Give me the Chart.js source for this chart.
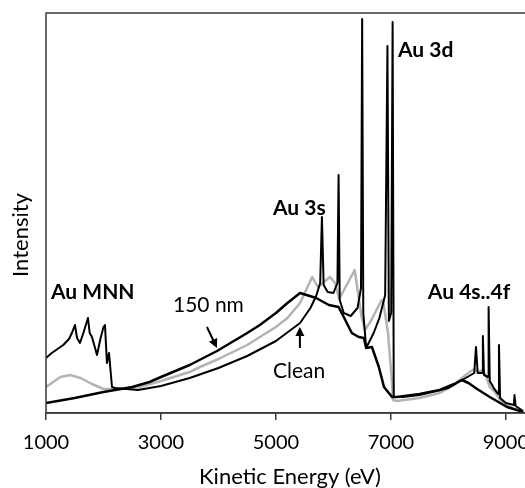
<!DOCTYPE html>
<html>
<head>
<meta charset="utf-8">
<script src="https://cdn.jsdelivr.net/npm/chart.js@4"></script>
<style>
  html, body { margin: 0; padding: 0; background: #fff; overflow: hidden; }
  #wrap { width: 525px; height: 488px; overflow: hidden; }
</style>
</head>
<body>
<div id="wrap"><canvas id="spectrum" width="540" height="488"></canvas></div>
<script>
// x axis ticks (kinetic energy, eV)
var xTicks = [1000, 3000, 5000, 7000, 9000];

// clean Au: MNN lines at low energy + sharp 3s/3d and 4s..4f lines
var cleanEnergy = [1000, 1100, 1200, 1300, 1400, 1450, 1504, 1540, 1591, 1650, 1730, 1760, 1800, 1887, 1950, 2000, 2026, 2060, 2096, 2148,
  2200, 2400, 2600, 3000, 3500, 4000, 4500, 5000, 5420, 5600, 5700, 5770, 5800, 5830, 5900, 6000, 6070, 6090, 6110, 6180,
  6300, 6420, 6480, 6500, 6520, 6570, 6700, 6800, 6900, 6940, 6965, 7005, 7030, 7050, 7200, 7500, 8000, 8300, 8450, 8480,
  8510, 8590, 8600, 8620, 8690, 8700, 8720, 8800, 8870, 8880, 8900, 9000, 9140, 9150, 9170, 9300];
var cleanCounts = [55, 60, 64, 68, 74, 80, 88, 75, 70, 80, 95, 80, 76, 58, 75, 86, 88, 50, 60, 26,
  25, 24, 23, 27, 35, 45, 57, 72, 90, 105, 117, 130, 196, 128, 121, 120, 130, 238, 113, 100,
  97, 105, 125, 394, 100, 65, 80, 95, 118, 367, 92, 100, 391, 16, 16, 18, 25, 35, 40, 66,
  40, 40, 77, 38, 36, 106, 32, 24, 19, 68, 15, 10, 8, 18, 7, 2];

// intermediate sample (grey)
var greyEnergy = [1000, 1100, 1250, 1420, 1600, 1800, 2000, 2300, 2635, 3000, 3500, 3680, 4000, 4500, 4720, 5000, 5200, 5420, 5630, 5730,
  5940, 6030, 6100, 6370, 6490, 6550, 6650, 6840, 6870, 6950, 7020, 7035, 7100, 7500, 7850, 8100, 8300, 8370, 8450, 8520,
  8600, 8650, 8720, 8800, 8900, 9000, 9150, 9300];
var greyCounts = [26, 30, 36, 38, 35, 29, 24, 24, 26, 32, 41, 46, 54, 68, 76, 86, 95, 110, 136, 126,
  136, 130, 114, 143, 96, 83, 92, 113, 110, 80, 30, 13, 12, 15, 20, 28, 38, 41, 44, 41,
  43, 38, 26, 22, 13, 8, 4, 1];

// 150 nm overlayer
var thickEnergy = [1000, 1500, 2000, 2500, 2800, 3000, 3500, 3975, 4500, 4720, 5000, 5200, 5420, 5700, 5920, 6090, 6180, 6320, 6440, 6530,
  6570, 6670, 6790, 6880, 7020, 7100, 7500, 7850, 8100, 8234, 8350, 8500, 8720, 8900, 9020, 9300];
var thickCounts = [10, 15, 21, 26, 31, 36, 48, 62, 80, 88, 100, 110, 120, 115, 108, 106, 96, 80, 76, 75,
  65, 66, 46, 26, 16, 16, 19, 23, 29, 33, 30, 24, 16, 10, 6, 1];

var notes = [
  { text: 'Au 3d', e: 7122, i: 363, bold: true },
  { text: 'Au 3s', e: 4948, i: 205, bold: true },
  { text: 'Au MNN', e: 1087, i: 121, bold: true },
  { text: 'Au 4s..4f', e: 7643, i: 121, bold: true },
  { text: '150 nm', e: 3209, i: 108, bold: false },
  { text: 'Clean', e: 4948, i: 42, bold: false }
];
var arrows = [
  { e0: 3800, i0: 86, e1: 3974, i1: 65 },
  { e0: 5417, i0: 65, e1: 5417, i1: 86 }
];

function toPoints(xs, ys) {
  return xs.map(function (v, k) { return { x: v, y: ys[k] }; });
}

var FONT = 'Lato, "Open Sans", sans-serif';

var decorations = {
  id: 'decorations',
  afterDatasetsDraw: function (chart) {
    var ctx = chart.ctx, a = chart.chartArea;
    var sx = chart.scales.x, sy = chart.scales.y;
    ctx.save();
    // plot area frame
    ctx.strokeStyle = '#3a3a3a';
    ctx.lineWidth = 1.5;
    ctx.strokeRect(a.left, a.top, a.right - a.left, a.bottom - a.top);

    // peak labels
    ctx.fillStyle = '#000';
    ctx.textAlign = 'left';
    ctx.textBaseline = 'middle';
    notes.forEach(function (n) {
      ctx.font = (n.bold ? 'bold ' : '') + '21px ' + FONT;
      ctx.fillText(n.text, sx.getPixelForValue(n.e), sy.getPixelForValue(n.i));
    });

    // arrows
    ctx.strokeStyle = '#000';
    ctx.lineWidth = 2;
    arrows.forEach(function (r) {
      var x0 = sx.getPixelForValue(r.e0), y0 = sy.getPixelForValue(r.i0);
      var x1 = sx.getPixelForValue(r.e1), y1 = sy.getPixelForValue(r.i1);
      var ang = Math.atan2(y1 - y0, x1 - x0);
      var hl = 9, hw = 4.5;
      ctx.beginPath();
      ctx.moveTo(x0, y0);
      ctx.lineTo(x1 - Math.cos(ang) * hl * 0.8, y1 - Math.sin(ang) * hl * 0.8);
      ctx.stroke();
      ctx.beginPath();
      ctx.moveTo(x1, y1);
      ctx.lineTo(x1 - Math.cos(ang) * hl - Math.sin(ang) * hw, y1 - Math.sin(ang) * hl + Math.cos(ang) * hw);
      ctx.lineTo(x1 - Math.cos(ang) * hl + Math.sin(ang) * hw, y1 - Math.sin(ang) * hl - Math.cos(ang) * hw);
      ctx.closePath();
      ctx.fill();
    });

    // axis titles
    ctx.font = '22px ' + FONT;
    ctx.textAlign = 'center';
    ctx.fillText('Kinetic Energy (eV)', 290, 477);
    ctx.translate(21, 235);
    ctx.rotate(-Math.PI / 2);
    ctx.fillText('Intensity', 0, 0);
    ctx.restore();
  }
};

var ctx = document.getElementById('spectrum');
var chart = new Chart(ctx, {
  type: 'line',
  data: {
    datasets: [{
      label: 'Clean',
      data: toPoints(cleanEnergy, cleanCounts),
      borderColor: '#000',
      borderWidth: 2,
      order: 0
    }, {
      label: '150 nm',
      data: toPoints(thickEnergy, thickCounts),
      borderColor: '#000',
      borderWidth: 2.5,
      order: 1
    }, {
      label: 'intermediate',
      data: toPoints(greyEnergy, greyCounts),
      borderColor: '#b3b3b3',
      borderWidth: 2.5,
      order: 2
    }]
  },
  options: {
    responsive: false,
    animation: false,
    devicePixelRatio: 1,
    elements: { point: { radius: 0 }, line: { tension: 0, borderJoinStyle: 'round' } },
    layout: { padding: { left: 46, top: 13, right: 10, bottom: 0 } },
    plugins: { legend: { display: false }, tooltip: { enabled: false } },
    scales: {
      x: {
        type: 'linear',
        min: 1000,
        max: 9420,
        afterBuildTicks: function (s) { s.ticks = xTicks.map(function (v) { return { value: v }; }); },
        afterFit: function (s) { s.height = 75; s.paddingLeft = 0; s.paddingRight = 0; },
        border: { display: true, color: '#3a3a3a', width: 1.5 },
        grid: { display: true, drawOnChartArea: false, drawTicks: true, tickLength: 7, color: '#3a3a3a', lineWidth: 1.5 },
        ticks: {
          color: '#000',
          font: { family: FONT, size: 20 },
          padding: 11,
          maxRotation: 0,
          autoSkip: false,
          callback: function (v) { return String(v); }
        }
      },
      y: {
        display: false,
        min: 0,
        max: 400
      }
    }
  },
  plugins: [decorations]
});
</script>
</body>
</html>
